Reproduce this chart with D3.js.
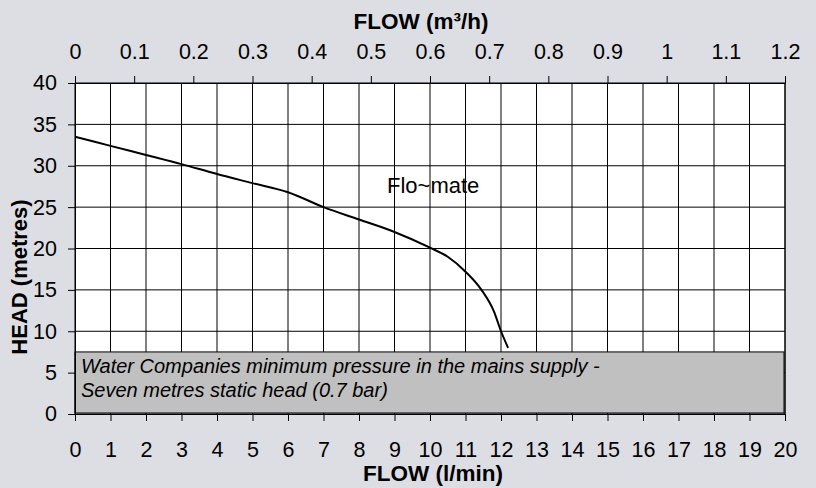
<!DOCTYPE html>
<html><head><meta charset="utf-8">
<script src="https://cdn.jsdelivr.net/npm/d3@7"></script>
<style>
html,body{margin:0;padding:0;background:#dcdee3;}
svg{display:block;font-family:"Liberation Sans",Arial,sans-serif;}
</style></head>
<body>
<svg id="c" width="816" height="488"></svg>
<script>
// Data
const flowLmin = [0, 1, 2, 3, 4, 5, 6, 7, 8, 9, 10, 10.5, 11, 11.45, 11.8, 12.0, 12.2];
const headM    = [33.5, 32.4, 31.3, 30.2, 29.0, 27.9, 26.8, 25.0, 23.5, 22.0, 20.1, 19.0, 17.2, 15.0, 12.4, 10.0, 8.0];
const bottomTicks = d3.range(0, 21, 1);
const topTicks = [0, 0.1, 0.2, 0.3, 0.4, 0.5, 0.6, 0.7, 0.8, 0.9, 1, 1.1, 1.2];
const leftTicks = [0, 5, 10, 15, 20, 25, 30, 35, 40];
const bandHead = 7.5;
const seriesLabel = "Flo~mate";
const bandText = ["Water Companies minimum pressure in the mains supply -", "Seven metres static head (0.7 bar)"];

const svg = d3.select("#c");
const L = 75, R = 785, T = 83, B = 414;
const x = d3.scaleLinear().domain([0, 20]).range([L, R]);
const xt = d3.scaleLinear().domain([0, 1.2]).range([L, R]);
const y = d3.scaleLinear().domain([0, 40]).range([B, T]);

// plot area
svg.append("rect").attr("x", L).attr("y", T).attr("width", R - L).attr("height", B - T).attr("fill", "#fff");

// grid
const g = svg.append("g").attr("stroke", "#000").attr("stroke-width", 1);
bottomTicks.forEach(v => g.append("line").attr("x1", x(v)).attr("x2", x(v)).attr("y1", T).attr("y2", B));
leftTicks.forEach(v => g.append("line").attr("x1", L).attr("x2", R).attr("y1", y(v)).attr("y2", y(v)));

// band
svg.append("rect").attr("x", x(0)).attr("y", y(bandHead)).attr("width", x(20) - x(0) - 1).attr("height", y(0) - y(bandHead) - 1)
  .attr("fill", "#c0c0c0").attr("stroke", "#000").attr("stroke-width", 1);
svg.append("g").selectAll("text").data(bandText).join("text")
  .attr("x", 81).attr("y", (d, i) => 373 + i * 24)
  .attr("font-size", 20).attr("font-style", "italic").attr("fill", "#000").text(d => d);

// curve
const pts = flowLmin.map((f, i) => [f, headM[i]]);
svg.append("path").datum(pts)
  .attr("d", d3.line().x(d => x(d[0])).y(d => y(d[1])).curve(d3.curveMonotoneX))
  .attr("fill", "none").attr("stroke", "#000").attr("stroke-width", 2);
svg.append("text").attr("x", 387).attr("y", 193).attr("font-size", 22).text(seriesLabel);

// axes
const fmt = d => String(d);
const ax = (sel) => { sel.selectAll(".domain").attr("stroke", "#000"); sel.selectAll(".tick line").attr("stroke", "#000"); sel.selectAll("text").attr("font-size", 21.5).attr("fill", "#000"); };
svg.append("g").attr("transform", `translate(0,${B})`)
  .call(d3.axisBottom(x).tickValues(bottomTicks).tickFormat(fmt).tickSize(7).tickSizeOuter(0).tickPadding(21))
  .attr("font-family", null).call(ax);
svg.append("g").attr("transform", `translate(0,${T})`)
  .call(d3.axisTop(xt).tickValues(topTicks).tickFormat(fmt).tickSize(7).tickSizeOuter(0).tickPadding(17))
  .attr("font-family", null).call(ax);
svg.append("g").attr("transform", `translate(${L},0)`)
  .call(d3.axisLeft(y).tickValues(leftTicks).tickFormat(fmt).tickSize(7).tickSizeOuter(0).tickPadding(11))
  .attr("font-family", null).call(ax);
// right border
svg.append("line").attr("x1", R).attr("x2", R).attr("y1", T).attr("y2", B).attr("stroke", "#000");

// titles
svg.append("text").attr("x", 421).attr("y", 29).attr("text-anchor", "middle").attr("font-size", 22.5).attr("font-weight", "bold").text("FLOW (m³/h)");
svg.append("text").attr("x", 433).attr("y", 481).attr("text-anchor", "middle").attr("font-size", 22.5).attr("font-weight", "bold").text("FLOW (l/min)");
svg.append("text").attr("transform", "translate(27,277) rotate(-90)").attr("text-anchor", "middle").attr("font-size", 22).attr("font-weight", "bold").text("HEAD (metres)");
</script>
</body></html>
